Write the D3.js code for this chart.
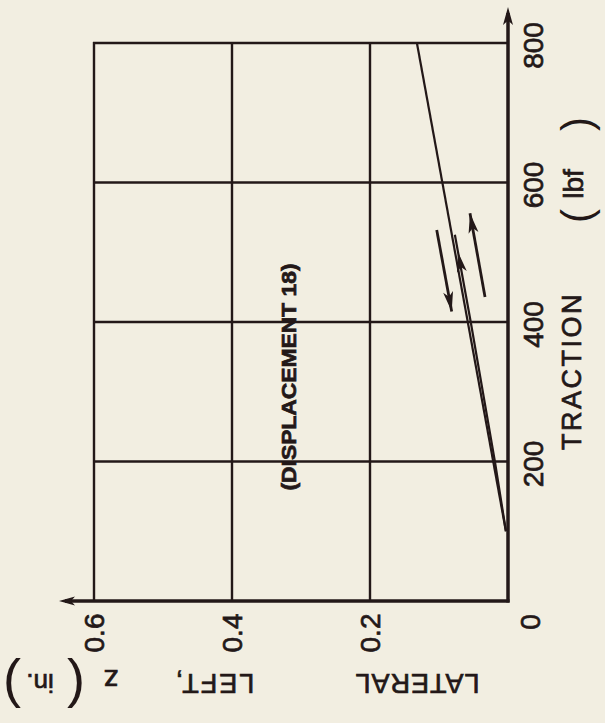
<!DOCTYPE html>
<html>
<head>
<meta charset="utf-8">
<script src="https://cdn.jsdelivr.net/npm/d3@7"></script>
<style>
  html, body { margin: 0; padding: 0; background: #f2eee1; }
  svg { display: block; }
  text { font-family: "Liberation Sans", Arial, sans-serif; fill: #231818; stroke: #231818; stroke-width: 0.7px; }
</style>
</head>
<body>
<svg id="chart" width="605" height="723"></svg>
<script>
// ---- data ----
const tractionTicks = [0, 200, 400, 600, 800];          // lbf
const lateralTicks = [0, 0.2, 0.4, 0.6];                // in.
const mainTraction = [100, 800];
const mainLateral  = [0.003, 0.132];
const branchTraction = [100, 200, 400, 525];
const branchLateral  = [0.003, 0.019, 0.054, 0.077];
const arrowDownTraction = [532, 415];
const arrowDownLateral  = [0.1033, 0.0816];
const arrowUpTraction = [436, 556];
const arrowUpLateral  = [0.0333, 0.0551];
const branchArrowTraction = [470, 500];
const branchArrowLateral  = [0.0665, 0.0723];
const annotation = "(DISPLACEMENT 18)";

const ink = "#231818";
const svg = d3.select("#chart");

// rotated chart: traction runs up the page, lateral runs to the left
const tScale = d3.scaleLinear().domain([0, 800]).range([601, 43]);
const zScale = d3.scaleLinear().domain([0, 0.6]).range([508, 94]);

// grid
svg.append("g").selectAll("line.h").data(tractionTicks.slice(1)).join("line")
  .attr("x1", zScale(0.6) - 1).attr("x2", zScale(0))
  .attr("y1", d => tScale(d)).attr("y2", d => tScale(d))
  .attr("stroke", ink).attr("stroke-width", 2.4);
svg.append("g").selectAll("line.v").data(lateralTicks.slice(1)).join("line")
  .attr("y1", tScale(0)).attr("y2", tScale(800) - 1)
  .attr("x1", d => zScale(d)).attr("x2", d => zScale(d))
  .attr("stroke", ink).attr("stroke-width", 2.4);

// axes with arrows
function arrowHead(tip, from, L, w) {
  const dx = tip[0] - from[0], dy = tip[1] - from[1];
  const len = Math.hypot(dx, dy);
  const ux = dx / len, uy = dy / len, nx = -uy, ny = ux;
  const bx = tip[0] - L * ux, by = tip[1] - L * uy;
  const mx = tip[0] - L * 0.75 * ux, my = tip[1] - L * 0.75 * uy;
  return [tip, [bx + w * nx, by + w * ny], [mx, my], [bx - w * nx, by - w * ny]];
}
const origin = [zScale(0), tScale(0)];
const tAxisEnd = [zScale(0), tScale(800) - 36];
const zAxisEnd = [zScale(0.6) - 35, tScale(0)];
svg.append("line").attr("x1", origin[0]).attr("y1", origin[1] + 1.5)
  .attr("x2", tAxisEnd[0]).attr("y2", tAxisEnd[1] + 6)
  .attr("stroke", ink).attr("stroke-width", 3.5);
svg.append("line").attr("x1", origin[0] + 1.5).attr("y1", origin[1])
  .attr("x2", zAxisEnd[0] + 6).attr("y2", zAxisEnd[1])
  .attr("stroke", ink).attr("stroke-width", 3.5);
svg.append("polygon").attr("points", arrowHead(tAxisEnd, origin, 18, 5).join(" ")).attr("fill", ink);
svg.append("polygon").attr("points", arrowHead(zAxisEnd, origin, 16, 4.5).join(" ")).attr("fill", ink);

// traction tick labels (rotated)
const tAxis = svg.append("g").attr("transform", `translate(${zScale(0)},0)`)
  .call(d3.axisRight(tScale).tickValues(tractionTicks.slice(1)).tickSize(0).tickFormat(d3.format("d")));
tAxis.select(".domain").remove();
tAxis.selectAll("text")
  .attr("x", null).attr("dy", null)
  .attr("transform", "translate(25,2) rotate(-90)")
  .attr("text-anchor", "middle").attr("dominant-baseline", "central")
  .style("font-size", "28px").style("font-family", "'Liberation Sans', Arial, sans-serif")
  .style("fill", ink).style("stroke", ink).style("stroke-width", "0.7px");

// lateral tick labels (rotated)
const zAxis = svg.append("g").attr("transform", `translate(0,${tScale(0)})`)
  .call(d3.axisBottom(zScale).tickValues(lateralTicks.slice(1)).tickSize(0).tickFormat(d3.format(".1f")));
zAxis.select(".domain").remove();
zAxis.selectAll("text")
  .attr("y", null).attr("dy", null)
  .attr("transform", "translate(0,32) rotate(-90)")
  .attr("text-anchor", "middle").attr("dominant-baseline", "central")
  .style("font-size", "28px").style("font-family", "'Liberation Sans', Arial, sans-serif")
  .style("fill", ink).style("stroke", ink).style("stroke-width", "0.7px");

// shared zero at the corner
svg.append("text").attr("transform", `translate(${zScale(0) + 22},${tScale(0) + 21}) rotate(-90)`)
  .attr("text-anchor", "middle").attr("dominant-baseline", "central")
  .style("font-size", "28px").text(tractionTicks[0]);

// data lines
const line = d3.line().x(d => zScale(d[1])).y(d => tScale(d[0]));
const zip = (a, b) => a.map((v, i) => [v, b[i]]);
svg.append("path").attr("d", line(zip(mainTraction, mainLateral)))
  .attr("fill", "none").attr("stroke", ink).attr("stroke-width", 2.2);
svg.append("path").attr("d", line(zip(branchTraction, branchLateral)))
  .attr("fill", "none").attr("stroke", ink).attr("stroke-width", 2.2);

// direction arrows
function drawArrow(ts, zs, withShaft) {
  const p0 = [zScale(zs[0]), tScale(ts[0])];
  const p1 = [zScale(zs[1]), tScale(ts[1])];
  if (withShaft) {
    svg.append("line").attr("x1", p0[0]).attr("y1", p0[1]).attr("x2", p1[0]).attr("y2", p1[1])
      .attr("stroke", ink).attr("stroke-width", 2.8);
  }
  svg.append("polygon").attr("points", arrowHead(p1, p0, 20, 5).join(" ")).attr("fill", ink);
}
drawArrow(arrowDownTraction, arrowDownLateral, true);
drawArrow(arrowUpTraction, arrowUpLateral, true);
drawArrow(branchArrowTraction, branchArrowLateral, false);

// annotation
svg.append("text").attr("transform", "translate(289,377) rotate(-90)")
  .attr("text-anchor", "middle").attr("dominant-baseline", "central")
  .attr("textLength", 227).attr("lengthAdjust", "spacingAndGlyphs")
  .style("font-size", "20px").style("font-weight", "bold").text(annotation);

// axis titles
function rotText(cx, cy, angle, size, txt, extra) {
  const t = svg.append("text").attr("transform", `translate(${cx},${cy}) rotate(${angle})`)
    .attr("text-anchor", "middle").attr("dominant-baseline", "central")
    .style("font-size", size + "px").text(txt);
  if (extra) extra(t);
  return t;
}
rotText(572, 371, -90, 27, "TRACTION", t => t.style("letter-spacing", "2.5px"));
rotText(576, 216, -90, 42, "(", t => t.style("stroke-width", "0px"));
rotText(573, 184, -90, 28, "lbf");
rotText(576, 124, -90, 42, ")", t => t.style("stroke-width", "0px"));

rotText(417, 683, 180, 27, "LATERAL", t => t.style("letter-spacing", "1px"));
rotText(214, 683, 180, 27, "LEFT,", t => t.style("letter-spacing", "2px"));
rotText(111, 680, 180, 30, "z");
rotText(76, 688, 180, 54, "(", t => t.style("stroke-width", "0px"));
rotText(40, 683, 180, 26, "in.");
rotText(12, 688, 180, 54, ")", t => t.style("stroke-width", "0px"));
</script>
</body>
</html>
